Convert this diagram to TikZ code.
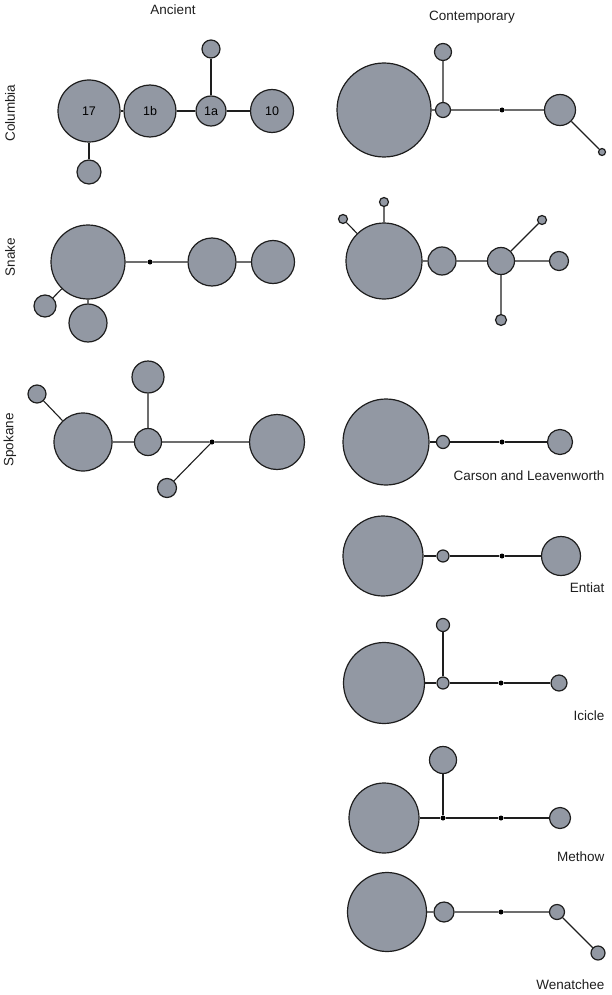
\documentclass[tikz,border=0pt]{standalone}
\usepackage{fontspec}
\setmainfont{Liberation Sans}
\definecolor{hapfill}{RGB}{146,152,163}
\definecolor{hapline}{RGB}{30,30,30}
\tikzset{
  hap/.style={circle, draw=hapline, line width=1.2pt, fill=hapfill, inner sep=0pt,
    minimum size=#1, font=\fontsize{12.5}{14}\selectfont},
  hub/.style={circle, fill=black, inner sep=0pt, minimum size=5pt},
  link/.style={draw=hapline, line width=1.1pt},
  lbl/.style={font=\fontsize{13.5}{16}\selectfont, text=hapline}
}

\begin{document}
\begin{tikzpicture}[x=1pt,y=-1pt]
  \useasboundingbox (0,0) rectangle (612,995);

  % column headings
  \node[lbl] (ancient) at (173,10) {Ancient};
  \node[lbl] (contemp) at (472,17) {Contemporary};

  % ancient: Columbia
  \node[lbl, rotate=90] (columbia) at (10,113) {Columbia};
  \node[hap=62pt] (ac17) at (89,111) {17};
  \node[hap=52pt] (ac1b) at (150,111) {1b};
  \node[hap=30pt] (ac1a) at (211,111) {1a};
  \node[hap=43pt] (ac10) at (272,111) {10};
  \node[hap=18pt] (actop) at (211,49) {};
  \node[hap=24pt] (acbot) at (89,172) {};
  \draw[link] (ac17) -- (ac1b) (ac1b) -- (ac1a) (ac1a) -- (ac10)
    (ac1a) -- (actop) (ac17) -- (acbot);

  % ancient: Snake
  \node[lbl, rotate=90] (snake) at (10,257) {Snake};
  \node[hap=74pt] (asbig) at (88,262) {};
  \node[hub] (asdot) at (150,262) {};
  \node[hap=48pt] (asmid) at (212,262) {};
  \node[hap=43pt] (asright) at (273,262) {};
  \node[hap=22pt] (asleft) at (45,306) {};
  \node[hap=38pt] (asbot) at (88,323) {};
  \draw[link] (asbig) -- (asdot) (asdot) -- (asmid) (asmid) -- (asright)
    (asbig) -- (asleft) (asbig) -- (asbot);

  % ancient: Spokane
  \node[lbl, rotate=90] (spokane) at (10,440) {Spokane};
  \node[hap=18pt] (apleft) at (37,394) {};
  \node[hap=58pt] (apbig) at (83,442) {};
  \node[hap=27pt] (aphub) at (148,442) {};
  \node[hap=32pt] (aptop) at (148,377) {};
  \node[hub] (apdot) at (212,442) {};
  \node[hap=55pt] (apright) at (277,442) {};
  \node[hap=19pt] (apbot) at (167,488) {};
  \draw[link] (apleft) -- (apbig) (apbig) -- (aphub) (aphub) -- (aptop)
    (aphub) -- (apdot) (apdot) -- (apright) (apdot) -- (apbot);

  % contemporary: Columbia
  \node[hap=94pt] (ccbig) at (384,110) {};
  \node[hap=15pt] (ccsmall) at (443,110) {};
  \node[hap=17pt] (cctop) at (443,52) {};
  \node[hub] (ccdot) at (502,110) {};
  \node[hap=31pt] (ccright) at (560,110) {};
  \node[hap=7pt] (cctail) at (602,152) {};
  \draw[link] (ccbig) -- (ccsmall) (ccsmall) -- (cctop) (ccsmall) -- (ccdot)
    (ccdot) -- (ccright) (ccright) -- (cctail);

  % contemporary: Snake
  \node[hap=76pt] (csbig) at (384,261) {};
  \node[hap=9pt] (cstop) at (384,202) {};
  \node[hap=9pt] (csleft) at (343,219) {};
  \node[hap=28pt] (csmid) at (442,261) {};
  \node[hap=27pt] (cshub) at (501,261) {};
  \node[hap=9pt] (csup) at (542,220) {};
  \node[hap=19pt] (csright) at (559,261) {};
  \node[hap=11pt] (csbot) at (501,320) {};
  \draw[link] (csbig) -- (cstop) (csbig) -- (csleft) (csbig) -- (csmid)
    (csmid) -- (cshub) (cshub) -- (csup) (cshub) -- (csright) (cshub) -- (csbot);

  % contemporary: Carson and Leavenworth
  \node[hap=86pt] (clbig) at (386,442) {};
  \node[hap=13pt] (clsmall) at (443,442) {};
  \node[hub] (cldot) at (502,442) {};
  \node[hap=25pt] (clright) at (560,442) {};
  \draw[link] (clbig) -- (clsmall) (clsmall) -- (cldot) (cldot) -- (clright);
  \node[lbl, anchor=east] (carson) at (608,476) {Carson and Leavenworth};

  % contemporary: Entiat
  \node[hap=80pt] (cebig) at (383,556) {};
  \node[hap=12pt] (cesmall) at (443,556) {};
  \node[hub] (cedot) at (502,556) {};
  \node[hap=39pt] (ceright) at (561,556) {};
  \draw[link] (cebig) -- (cesmall) (cesmall) -- (cedot) (cedot) -- (ceright);
  \node[lbl, anchor=east] (entiat) at (608,588) {Entiat};

  % contemporary: Icicle
  \node[hap=81pt] (cibig) at (384,683) {};
  \node[hap=12pt] (cismall) at (443,683) {};
  \node[hap=13pt] (citop) at (443,625) {};
  \node[hub] (cidot) at (501,683) {};
  \node[hap=16pt] (ciright) at (559,683) {};
  \draw[link] (cibig) -- (cismall) (cismall) -- (citop) (cismall) -- (cidot)
    (cidot) -- (ciright);
  \node[lbl, anchor=east] (icicle) at (608,716) {Icicle};

  % contemporary: Methow
  \node[hap=70pt] (cmbig) at (384,818) {};
  \node[hub] (cmjoin) at (443,818) {};
  \node[hap=27pt] (cmtop) at (443,760) {};
  \node[hub] (cmdot) at (501,818) {};
  \node[hap=21pt] (cmright) at (560,818) {};
  \draw[link] (cmbig) -- (cmjoin) (cmjoin) -- (cmtop) (cmjoin) -- (cmdot)
    (cmdot) -- (cmright);
  \node[lbl, anchor=east] (methow) at (608,857) {Methow};

  % contemporary: Wenatchee
  \node[hap=79pt] (cwbig) at (387,912) {};
  \node[hap=20pt] (cwmid) at (444,912) {};
  \node[hub] (cwdot) at (501,912) {};
  \node[hap=15pt] (cwright) at (557,912) {};
  \node[hap=14pt] (cwtail) at (598,953) {};
  \draw[link] (cwbig) -- (cwmid) (cwmid) -- (cwdot) (cwdot) -- (cwright)
    (cwright) -- (cwtail);
  \node[lbl, anchor=east] (wenatchee) at (608,985) {Wenatchee};
\end{tikzpicture}
\end{document}
